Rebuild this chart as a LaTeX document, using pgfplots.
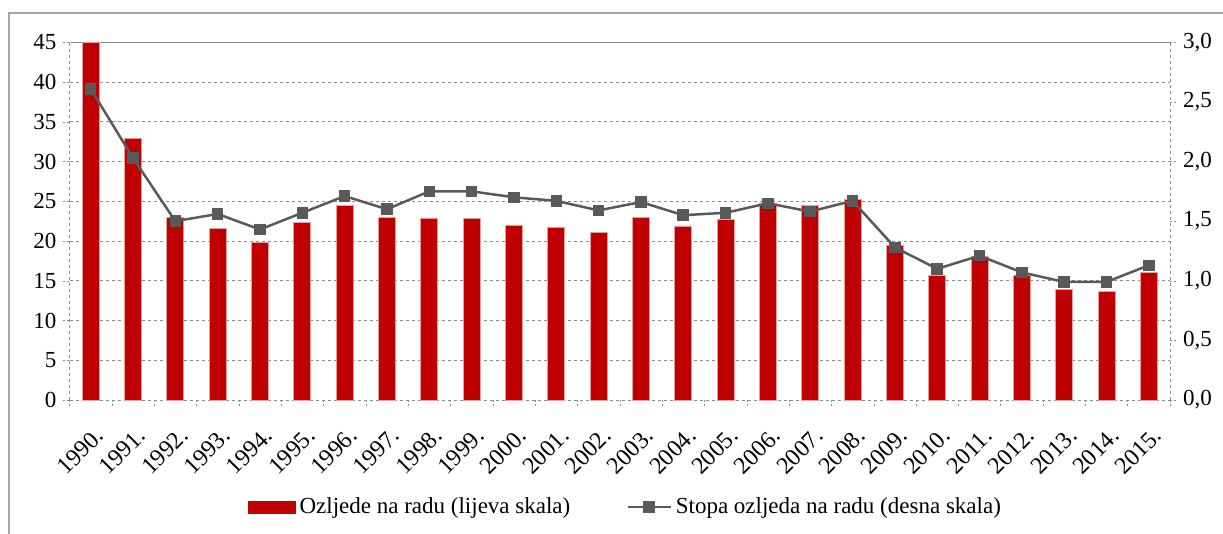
\documentclass[border=0pt]{standalone}
\usepackage{pgfplots}
\pgfplotsset{compat=1.18}
\usepackage{pgfplotstable}
\usepackage{fontspec}
\setmainfont{Liberation Serif}
\definecolor{barred}{HTML}{C00000}
\definecolor{baredge}{HTML}{E6A0A0}
\definecolor{linegrey}{HTML}{595959}
\definecolor{gridgrey}{HTML}{8C8C8C}
\pgfplotsset{mylinelegend/.style={legend image code/.code={\draw[mark repeat=2,mark phase=2,##1] plot coordinates {(0pt,0pt) (10.75pt,0pt) (21.5pt,0pt)};}}}

\pgfplotstableread{
x inj rate
0 45.0 2.61
1 32.9 2.03
2 23.0 1.50
3 21.6 1.56
4 19.8 1.43
5 22.35 1.57
6 24.5 1.71
7 23.0 1.60
8 22.9 1.75
9 22.8 1.75
10 22.0 1.70
11 21.7 1.67
12 21.1 1.59
13 23.0 1.66
14 21.9 1.55
15 22.7 1.57
16 24.7 1.65
17 24.5 1.58
18 25.2 1.67
19 19.5 1.28
20 15.7 1.10
21 18.1 1.21
22 15.7 1.07
23 13.9 0.99
24 13.7 0.99
25 16.0 1.13
}\datatable

\begin{document}
\begin{tikzpicture}
\useasboundingbox (0,0) rectangle (611.5pt,267pt);
\draw[gray!70, line width=0.6pt] (4.5pt,-20pt) rectangle (640pt,260.5pt);
\begin{axis}[
  scale only axis, width=550.25pt, height=178.85pt,
  at={(34.75pt,67pt)}, anchor=south west,
  xmin=-0.5, xmax=25.5, ymin=0, ymax=45,
  axis x line*=bottom, axis y line*=left,
  axis line style={gridgrey, dash pattern=on 1.5pt off 1.5pt, -},
  ytick={0,5,...,40}, extra y ticks={45},
  extra y tick style={major grid style={solid, gridgrey, line width=0.6pt}},
  ymajorgrids, major grid style={gridgrey, dash pattern=on 1.5pt off 1.5pt},
  xtick={0,...,25},
  xticklabels={1990.,1991.,1992.,1993.,1994.,1995.,1996.,1997.,1998.,1999.,2000.,2001.,2002.,2003.,2004.,2005.,2006.,2007.,2008.,2009.,2010.,2011.,2012.,2013.,2014.,2015.},
  major x tick style={draw=none},
  minor xtick={-0.5,0.5,...,25.5},
  tick style={gridgrey, dash pattern=on 1pt off 1pt},
  tick align=outside, major tick length=3pt, minor tick length=3pt,
  x tick label style={rotate=45, anchor=north east, font=\fontsize{12}{14}\selectfont, inner sep=0pt, yshift=-8pt, xshift=-6pt},
  y tick label style={font=\fontsize{11.5}{13}\selectfont},
  /pgf/number format/assume math mode=true,
  ybar, bar width=8.5pt,
  clip=false,
]
\addplot[fill=barred, draw=baredge, line width=0.4pt] table[x=x,y=inj] {\datatable};
\end{axis}
\begin{axis}[
  scale only axis, width=550.25pt, height=178.85pt,
  at={(34.75pt,67pt)}, anchor=south west,
  xmin=-0.5, xmax=25.5, ymin=0, ymax=3,
  axis y line*=right, axis x line=none,
  axis line style={gridgrey, dash pattern=on 1.5pt off 1.5pt, -},
  ytick={0,0.5,1,1.5,2,2.5,3},
  y tick label style={font=\fontsize{11.5}{13}\selectfont},
  yticklabel style={/pgf/number format/fixed, /pgf/number format/fixed zerofill, /pgf/number format/precision=1, /pgf/number format/use comma},
  /pgf/number format/assume math mode=true,
  tick style={gridgrey, dash pattern=on 1pt off 1pt},
  tick align=outside, major tick length=3pt,
  clip=false,
  legend style={at={(0.506,-0.299)}, anchor=center, draw=none, fill=none,
    legend columns=2, font=\fontsize{11.5}{13}\selectfont,
    /tikz/every even column/.append style={column sep=26pt}},
]
\addlegendimage{legend image code/.code={\fill[barred] (0pt,-3pt) rectangle (23.5pt,3pt);}}
\addlegendentry{Ozljede na radu (lijeva skala)}
\addplot[linegrey, line width=1.25pt, mark=square*, mark size=2.25pt,
  mark options={solid, fill=linegrey, draw=linegrey}, mylinelegend]
  table[x=x,y=rate] {\datatable};
\addlegendentry{Stopa ozljeda na radu (desna skala)}
\end{axis}
\end{tikzpicture}
\end{document}
